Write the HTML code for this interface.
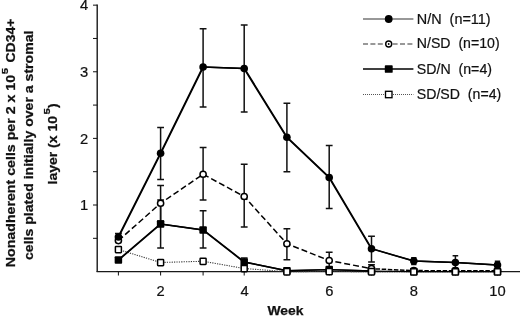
<!DOCTYPE html>
<html><head><meta charset="utf-8"><title>Chart</title>
<style>html,body{margin:0;padding:0;background:#fff;overflow:hidden}body{width:520px;height:316px;position:relative}</style></head>
<body>
<svg width="520" height="316" viewBox="0 0 520 316" style="position:absolute;left:0;top:0">
<rect width="520" height="316" fill="#fff"/>
<path d="M97.2,4.5V272.1" stroke="#111" stroke-width="1.35" fill="none"/>
<path d="M96.60000000000001,271.6H520" stroke="#1a1a1a" stroke-width="1.15" fill="none"/>
<path d="M93,5.15H97.2" stroke="#111" stroke-width="1"/>
<path d="M93,38.46H97.2" stroke="#111" stroke-width="1"/>
<path d="M93,71.77000000000001H97.2" stroke="#111" stroke-width="1"/>
<path d="M93,105.08000000000001H97.2" stroke="#111" stroke-width="1"/>
<path d="M93,138.39000000000001H97.2" stroke="#111" stroke-width="1"/>
<path d="M93,171.70000000000002H97.2" stroke="#111" stroke-width="1"/>
<path d="M93,205.01000000000002H97.2" stroke="#111" stroke-width="1"/>
<path d="M93,238.32000000000002H97.2" stroke="#111" stroke-width="1"/>
<path d="M118.4,271.6V275.5" stroke="#111" stroke-width="1"/>
<path d="M160.6,271.6V275.5" stroke="#111" stroke-width="1"/>
<path d="M203.1,271.6V275.5" stroke="#111" stroke-width="1"/>
<path d="M244.2,271.6V275.5" stroke="#111" stroke-width="1"/>
<path d="M286.9,271.6V275.5" stroke="#111" stroke-width="1"/>
<path d="M329.2,271.6V275.5" stroke="#111" stroke-width="1"/>
<path d="M371.5,271.6V275.5" stroke="#111" stroke-width="1"/>
<path d="M413.8,271.6V275.5" stroke="#111" stroke-width="1"/>
<path d="M455.4,271.6V275.5" stroke="#111" stroke-width="1"/>
<path d="M497.5,271.6V275.5" stroke="#111" stroke-width="1"/>
<path d="M118.4,233.5V240.5M115.00,233.5H121.80M115.00,240.5H121.80" stroke="#111" stroke-width="1.5" fill="none"/>
<path d="M160.6,127.5V179.5M157.20,127.5H164.00M157.20,179.5H164.00" stroke="#111" stroke-width="1.5" fill="none"/>
<path d="M203.1,28.75V107M199.70,28.75H206.50M199.70,107H206.50" stroke="#111" stroke-width="1.5" fill="none"/>
<path d="M244.2,25V112M240.80,25H247.60M240.80,112H247.60" stroke="#111" stroke-width="1.5" fill="none"/>
<path d="M286.9,103.25V171.75M283.50,103.25H290.30M283.50,171.75H290.30" stroke="#111" stroke-width="1.5" fill="none"/>
<path d="M329.2,145.5V208.5M325.80,145.5H332.60M325.80,208.5H332.60" stroke="#111" stroke-width="1.5" fill="none"/>
<path d="M371.5,236.25V262M368.10,236.25H374.90M368.10,262H374.90" stroke="#111" stroke-width="1.5" fill="none"/>
<path d="M413.8,257.8V264.4M411.10,257.8H416.50M411.10,264.4H416.50" stroke="#111" stroke-width="1.5" fill="none"/>
<path d="M455.4,255.7V268M452.60,255.7H458.20M452.60,268H458.20" stroke="#111" stroke-width="1.5" fill="none"/>
<path d="M497.5,261.2V268M494.80,261.2H500.20M494.80,268H500.20" stroke="#111" stroke-width="1.5" fill="none"/>
<path d="M160.6,185.5V221M157.20,185.5H164.00M157.20,221H164.00" stroke="#111" stroke-width="1.5" fill="none"/>
<path d="M203.1,147.5V200M199.70,147.5H206.50M199.70,200H206.50" stroke="#111" stroke-width="1.5" fill="none"/>
<path d="M244.2,164.25V227M240.80,164.25H247.60M240.80,227H247.60" stroke="#111" stroke-width="1.5" fill="none"/>
<path d="M286.9,228.75V259.7M283.50,228.75H290.30M283.50,259.7H290.30" stroke="#111" stroke-width="1.5" fill="none"/>
<path d="M329.2,252.3V268M325.80,252.3H332.60M325.80,268H332.60" stroke="#111" stroke-width="1.5" fill="none"/>
<path d="M371.5,264.8V271M368.10,264.8H374.90M368.10,271H374.90" stroke="#111" stroke-width="1.5" fill="none"/>
<path d="M160.6,200V248M157.20,200H164.00M157.20,248H164.00" stroke="#111" stroke-width="1.5" fill="none"/>
<path d="M203.1,210.75V248M199.70,210.75H206.50M199.70,248H206.50" stroke="#111" stroke-width="1.5" fill="none"/>
<path d="M244.2,258V266M240.80,258H247.60M240.80,266H247.60" stroke="#111" stroke-width="1.5" fill="none"/>
<polyline points="118.4,249.5 160.6,262.5 203.1,261.25 244.2,268.5 286.9,271.7 329.2,271.5 371.5,271.7 413.8,271.8 455.4,271.8 497.5,271.8" stroke="#333" stroke-width="1.05" stroke-dasharray="1.2,1.2" fill="none"/>
<polyline points="118.05,260 160.25,224 202.75,230 243.85,262 286.55,270.7 328.85,269.6 371.15,271.0" stroke="#000" stroke-width="1.4" fill="none"/>
<polyline points="118.75,260 160.95,224 203.45,230 244.55,262 287.25,270.7 329.55,269.6 371.85,271.0" stroke="#000" stroke-width="1.4" fill="none"/>
<polyline points="371.5,271.0 413.8,271.6 455.4,271.6 497.5,271.6" stroke="#000" stroke-width="1.2" fill="none"/>
<polyline points="118.4,240.6 160.6,203.25 203.1,174.25 244.2,196.5 286.9,243.75 329.2,260.5 371.5,268.7" stroke="#000" stroke-width="1.5" stroke-dasharray="6,3" fill="none"/>
<polyline points="371.5,268.7 413.8,270.6 455.4,270.7 497.5,270.7" stroke="#000" stroke-width="1.5" stroke-dasharray="4.5,1.6" stroke-dashoffset="2" fill="none"/>
<polyline points="118.05,237 160.25,153.25 202.75,67 243.85,68.5 286.55,137.25 328.85,177.5 371.15,248.75 413.45,261 455.05,262.5 497.15,265" stroke="#000" stroke-width="1.4" fill="none"/>
<polyline points="118.75,237 160.95,153.25 203.45,67 244.55,68.5 287.25,137.25 329.55,177.5 371.85,248.75 414.15,261 455.75,262.5 497.85,265" stroke="#000" stroke-width="1.4" fill="none"/>
<rect x="114.65" y="256.25" width="7.5" height="7.5" rx="0.9" fill="#000"/>
<rect x="156.85" y="220.25" width="7.5" height="7.5" rx="0.9" fill="#000"/>
<rect x="199.35" y="226.25" width="7.5" height="7.5" rx="0.9" fill="#000"/>
<rect x="240.45" y="258.25" width="7.5" height="7.5" rx="0.9" fill="#000"/>
<rect x="283.15" y="266.95" width="7.5" height="7.5" rx="0.9" fill="#000"/>
<rect x="325.45" y="265.85" width="7.5" height="7.5" rx="0.9" fill="#000"/>
<rect x="367.75" y="267.25" width="7.5" height="7.5" rx="0.9" fill="#000"/>
<rect x="410.05" y="267.85" width="7.5" height="7.5" rx="0.9" fill="#000"/>
<rect x="451.65" y="267.85" width="7.5" height="7.5" rx="0.9" fill="#000"/>
<rect x="493.75" y="267.85" width="7.5" height="7.5" rx="0.9" fill="#000"/>
<circle cx="118.4" cy="240.6" r="3.1" fill="#fff" stroke="#000" stroke-width="1.5"/>
<circle cx="160.6" cy="203.25" r="3.1" fill="#fff" stroke="#000" stroke-width="1.5"/>
<circle cx="203.1" cy="174.25" r="3.1" fill="#fff" stroke="#000" stroke-width="1.5"/>
<circle cx="244.2" cy="196.5" r="3.1" fill="#fff" stroke="#000" stroke-width="1.5"/>
<circle cx="286.9" cy="243.75" r="3.1" fill="#fff" stroke="#000" stroke-width="1.5"/>
<circle cx="329.2" cy="260.5" r="3.1" fill="#fff" stroke="#000" stroke-width="1.5"/>
<circle cx="371.5" cy="268.7" r="3.1" fill="#fff" stroke="#000" stroke-width="1.5"/>
<circle cx="413.8" cy="270.6" r="3.1" fill="#fff" stroke="#000" stroke-width="1.5"/>
<circle cx="455.4" cy="270.7" r="3.1" fill="#fff" stroke="#000" stroke-width="1.5"/>
<circle cx="497.5" cy="270.7" r="3.1" fill="#fff" stroke="#000" stroke-width="1.5"/>
<circle cx="118.4" cy="237" r="3.8" fill="#000"/>
<circle cx="160.6" cy="153.25" r="3.8" fill="#000"/>
<circle cx="203.1" cy="67" r="3.8" fill="#000"/>
<circle cx="244.2" cy="68.5" r="3.8" fill="#000"/>
<circle cx="286.9" cy="137.25" r="3.8" fill="#000"/>
<circle cx="329.2" cy="177.5" r="3.8" fill="#000"/>
<circle cx="371.5" cy="248.75" r="3.8" fill="#000"/>
<circle cx="413.8" cy="261" r="3.8" fill="#000"/>
<circle cx="455.4" cy="262.5" r="3.8" fill="#000"/>
<circle cx="497.5" cy="265" r="3.8" fill="#000"/>
<rect x="115.40" y="246.40" width="6.0" height="6.3" rx="0.6" fill="#fff" stroke="#000" stroke-width="1.5"/>
<rect x="157.60" y="259.40" width="6.0" height="6.3" rx="0.6" fill="#fff" stroke="#000" stroke-width="1.5"/>
<rect x="200.10" y="258.15" width="6.0" height="6.3" rx="0.6" fill="#fff" stroke="#000" stroke-width="1.5"/>
<rect x="241.20" y="265.40" width="6.0" height="6.3" rx="0.6" fill="#fff" stroke="#000" stroke-width="1.5"/>
<rect x="283.90" y="268.60" width="6.0" height="6.3" rx="0.6" fill="#fff" stroke="#000" stroke-width="1.5"/>
<rect x="326.20" y="268.40" width="6.0" height="6.3" rx="0.6" fill="#fff" stroke="#000" stroke-width="1.5"/>
<rect x="368.50" y="268.60" width="6.0" height="6.3" rx="0.6" fill="#fff" stroke="#000" stroke-width="1.5"/>
<rect x="410.80" y="268.70" width="6.0" height="6.3" rx="0.6" fill="#fff" stroke="#000" stroke-width="1.5"/>
<rect x="452.40" y="268.70" width="6.0" height="6.3" rx="0.6" fill="#fff" stroke="#000" stroke-width="1.5"/>
<rect x="494.50" y="268.70" width="6.0" height="6.3" rx="0.6" fill="#fff" stroke="#000" stroke-width="1.5"/>
<path d="M363,19H413.4" stroke="#333" stroke-width="1.1"/>
<circle cx="388.7" cy="19" r="3.9" fill="#000"/>
<path d="M363,44H413.4" stroke="#333" stroke-width="1.1" stroke-dasharray="5,2.4"/>
<circle cx="388.7" cy="44" r="3.0" fill="#fff" stroke="#000" stroke-width="1.4"/>
<circle cx="388.7" cy="44" r="0.9" fill="#000"/>
<path d="M363,69H413.4" stroke="#000" stroke-width="1.4"/>
<rect x="384.8" y="65.2" width="7.9" height="7.6" rx="0.9" fill="#000"/>
<path d="M363,94.5H413.4" stroke="#555" stroke-width="1" stroke-dasharray="1,1"/>
<rect x="385.5" y="91.3" width="6.5" height="6.4" fill="#fff" stroke="#000" stroke-width="1.35"/>
<text x="416.8" y="23.6" font-family="Liberation Sans, sans-serif" font-size="14" fill="#111" xml:space="preserve" textLength="73.8" lengthAdjust="spacingAndGlyphs" stroke="#111" stroke-width="0.2">N/N  (n=11)</text>
<text x="416.8" y="48.4" font-family="Liberation Sans, sans-serif" font-size="14" fill="#111" xml:space="preserve" textLength="82.8" lengthAdjust="spacingAndGlyphs" stroke="#111" stroke-width="0.2">N/SD  (n=10)</text>
<text x="416.8" y="73.6" font-family="Liberation Sans, sans-serif" font-size="14" fill="#111" xml:space="preserve" textLength="75.2" lengthAdjust="spacingAndGlyphs" stroke="#111" stroke-width="0.2">SD/N  (n=4)</text>
<text x="416.8" y="98.5" font-family="Liberation Sans, sans-serif" font-size="14" fill="#111" xml:space="preserve" textLength="84.4" lengthAdjust="spacingAndGlyphs" stroke="#111" stroke-width="0.2">SD/SD  (n=4)</text>
<text x="84.2" y="10.350000000000001" font-family="Liberation Sans, sans-serif" font-size="14" fill="#111" xml:space="preserve" text-anchor="middle" textLength="8.2" lengthAdjust="spacingAndGlyphs" stroke="#111" stroke-width="0.2">4</text>
<text x="84.2" y="77.0" font-family="Liberation Sans, sans-serif" font-size="14" fill="#111" xml:space="preserve" text-anchor="middle" textLength="8.2" lengthAdjust="spacingAndGlyphs" stroke="#111" stroke-width="0.2">3</text>
<text x="84.2" y="143.6" font-family="Liberation Sans, sans-serif" font-size="14" fill="#111" xml:space="preserve" text-anchor="middle" textLength="8.2" lengthAdjust="spacingAndGlyphs" stroke="#111" stroke-width="0.2">2</text>
<text x="84.2" y="210.2" font-family="Liberation Sans, sans-serif" font-size="14" fill="#111" xml:space="preserve" text-anchor="middle" textLength="8.2" lengthAdjust="spacingAndGlyphs" stroke="#111" stroke-width="0.2">1</text>
<text x="160.5" y="296.4" font-family="Liberation Sans, sans-serif" font-size="14" fill="#111" xml:space="preserve" text-anchor="middle" textLength="8.2" lengthAdjust="spacingAndGlyphs" stroke="#111" stroke-width="0.2">2</text>
<text x="244.5" y="296.4" font-family="Liberation Sans, sans-serif" font-size="14" fill="#111" xml:space="preserve" text-anchor="middle" textLength="8.2" lengthAdjust="spacingAndGlyphs" stroke="#111" stroke-width="0.2">4</text>
<text x="329.25" y="296.4" font-family="Liberation Sans, sans-serif" font-size="14" fill="#111" xml:space="preserve" text-anchor="middle" textLength="8.2" lengthAdjust="spacingAndGlyphs" stroke="#111" stroke-width="0.2">6</text>
<text x="413.75" y="296.4" font-family="Liberation Sans, sans-serif" font-size="14" fill="#111" xml:space="preserve" text-anchor="middle" textLength="8.2" lengthAdjust="spacingAndGlyphs" stroke="#111" stroke-width="0.2">8</text>
<text x="497.5" y="296.4" font-family="Liberation Sans, sans-serif" font-size="14" fill="#111" xml:space="preserve" text-anchor="middle" textLength="16.4" lengthAdjust="spacingAndGlyphs" stroke="#111" stroke-width="0.2">10</text>
<text x="285.5" y="315" font-family="Liberation Sans, sans-serif" font-size="13.3" fill="#111" xml:space="preserve" font-weight="bold" stroke="#111" stroke-width="0.25" text-anchor="middle" textLength="36" lengthAdjust="spacingAndGlyphs">Week</text>
<text x="15.25" y="267.2" font-family="Liberation Sans, sans-serif" font-size="13.3" fill="#111" xml:space="preserve" font-weight="bold" stroke="#111" stroke-width="0.25" textLength="192.3" lengthAdjust="spacingAndGlyphs" transform="rotate(-90 15.25 267.2)">Nonadherent cells per 2 x 10</text>
<text x="8.1" y="74.2" font-family="Liberation Sans, sans-serif" font-size="9.5" fill="#111" xml:space="preserve" font-weight="bold" stroke="#111" stroke-width="0.25" textLength="6.4" lengthAdjust="spacingAndGlyphs" transform="rotate(-90 8.1 74.2)">5</text>
<text x="15.25" y="62.6" font-family="Liberation Sans, sans-serif" font-size="13.3" fill="#111" xml:space="preserve" font-weight="bold" stroke="#111" stroke-width="0.25" textLength="44" lengthAdjust="spacingAndGlyphs" transform="rotate(-90 15.25 62.6)">CD34+</text>
<text x="33.4" y="260" font-family="Liberation Sans, sans-serif" font-size="13.3" fill="#111" xml:space="preserve" font-weight="bold" stroke="#111" stroke-width="0.25" textLength="229.5" lengthAdjust="spacingAndGlyphs" transform="rotate(-90 33.4 260)">cells plated initially over a stromal</text>
<text x="56.5" y="184.5" font-family="Liberation Sans, sans-serif" font-size="13.3" fill="#111" xml:space="preserve" font-weight="bold" stroke="#111" stroke-width="0.25" textLength="68.5" lengthAdjust="spacingAndGlyphs" transform="rotate(-90 56.5 184.5)">layer (x 10</text>
<text x="50.0" y="114.5" font-family="Liberation Sans, sans-serif" font-size="9.5" fill="#111" xml:space="preserve" font-weight="bold" stroke="#111" stroke-width="0.25" textLength="6.4" lengthAdjust="spacingAndGlyphs" transform="rotate(-90 50.0 114.5)">5</text>
<text x="56.5" y="108" font-family="Liberation Sans, sans-serif" font-size="13.3" fill="#111" xml:space="preserve" font-weight="bold" stroke="#111" stroke-width="0.25" textLength="4.7" lengthAdjust="spacingAndGlyphs" transform="rotate(-90 56.5 108)">)</text>
</svg>
</body></html>
